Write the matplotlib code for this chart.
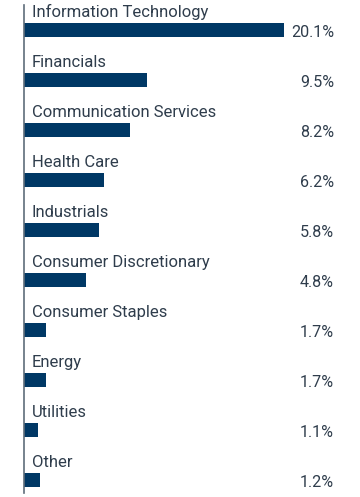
import matplotlib
matplotlib.use('Agg')
import matplotlib.pyplot as plt

# Sector weights (%)
sectors = ["Information Technology", "Financials", "Communication Services",
           "Health Care", "Industrials", "Consumer Discretionary",
           "Consumer Staples", "Energy", "Utilities", "Other"]
weights = [20.1, 9.5, 8.2, 6.2, 5.8, 4.8, 1.7, 1.7, 1.1, 1.2]
value_labels = ["20.1%", "9.5%", "8.2%", "6.2%", "5.8%", "4.8%",
                "1.7%", "1.7%", "1.1%", "1.2%"]

BAR_COLOR = "#003865"
TEXT_COLOR = "#2f3d4c"
AXIS_COLOR = "#5f6d7a"

plt.rcParams['font.family'] = ['Roboto', 'DejaVu Sans']

fig = plt.figure(figsize=(3.6, 4.97), dpi=100)
W, H = 360, 497
# axes from x=24px to x=334px, y=5px to y=493px
ax = fig.add_axes([24 / W, (H - 493) / H, 310 / W, 488 / H])

ypos = list(range(len(sectors)))
ax.barh(ypos, weights, height=0.28, color=BAR_COLOR, left=0)

ax.set_xlim(0, 310 / 12.935)
ax.set_ylim(9.26, -0.5)

for y, name, lab in zip(ypos, sectors, value_labels):
    ax.text(0.6, y - 0.26, name, ha='left', va='baseline',
            fontsize=12, color=TEXT_COLOR)
    ax.text(1.0, y + 0.14, lab, ha='right', va='baseline',
            fontsize=11.6, color=TEXT_COLOR,
            transform=ax.get_yaxis_transform())

for s in ['top', 'right', 'bottom']:
    ax.spines[s].set_visible(False)
ax.spines['left'].set_color(AXIS_COLOR)
ax.spines['left'].set_linewidth(1.2)
ax.set_xticks([])
ax.set_yticks([])

fig.savefig("out.png", dpi=100)
